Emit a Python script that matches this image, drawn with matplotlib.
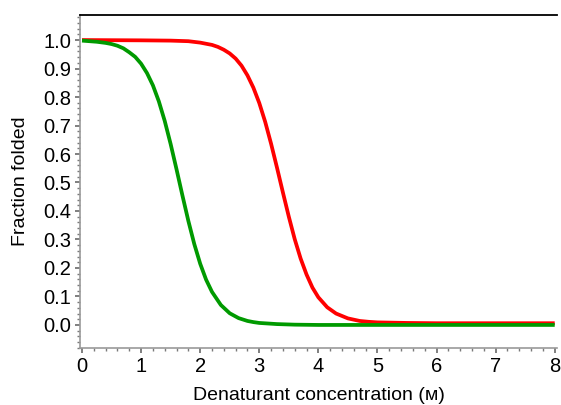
import matplotlib
matplotlib.use('Agg')
import matplotlib.pyplot as plt
from matplotlib.ticker import MultipleLocator

# values
green_x = [0, 0.25, 0.4, 0.5, 0.6, 0.7, 0.8, 0.9, 1.0, 1.1, 1.2, 1.3, 1.4, 1.5, 1.6,
           1.7, 1.8, 1.9, 2.0, 2.1, 2.2, 2.35, 2.5, 2.65, 2.8, 2.9, 3.0, 3.15, 3.3,
           3.6, 4.0, 5.0, 6.0, 7.0, 8.0]
green_y = [0.998, 0.994, 0.990, 0.986, 0.980, 0.971, 0.957, 0.941, 0.917, 0.884,
           0.841, 0.785, 0.716, 0.635, 0.546, 0.454, 0.365, 0.284, 0.215, 0.159,
           0.116, 0.070, 0.041, 0.024, 0.014, 0.010, 0.007, 0.005, 0.003, 0.001,
           0.0, 0.0, 0.0, 0.0, 0.0]

red_x = [0, 1.0, 1.5, 1.8, 2.0, 2.2, 2.3, 2.4, 2.5, 2.6, 2.7, 2.8, 2.9, 3.0, 3.1,
         3.2, 3.3, 3.4, 3.5, 3.6, 3.7, 3.8, 3.9, 4.0, 4.15, 4.3, 4.5, 4.7, 4.85,
         5.0, 5.5, 6.0, 7.0, 8.0]
red_y = [1.0, 0.999, 0.998, 0.996, 0.991, 0.983, 0.976, 0.966, 0.953, 0.935, 0.910,
         0.876, 0.833, 0.779, 0.713, 0.636, 0.552, 0.465, 0.380, 0.301, 0.233,
         0.177, 0.131, 0.097, 0.062, 0.040, 0.023, 0.014, 0.011, 0.009, 0.007,
         0.006, 0.006, 0.006]

y_ticks = [0.0, 0.1, 0.2, 0.3, 0.4, 0.5, 0.6, 0.7, 0.8, 0.9, 1.0]
x_ticks = [0, 1, 2, 3, 4, 5, 6, 7, 8]

plt.rcParams['font.family'] = ['Liberation Sans', 'DejaVu Sans']

fig = plt.figure(figsize=(5.61, 4.05), dpi=100)
ax = fig.add_axes([0.1426, 0.1407, 0.993 - 0.1426, 0.963 - 0.1407])

ax.plot(red_x, red_y, color='#ff0000', lw=2.7, solid_capstyle='butt')
ax.plot(green_x, green_y, color='#009a00', lw=2.7, solid_capstyle='butt')

ax.set_xlim(-0.034, 8.04)
ax.set_ylim(-0.081, 1.088)

ax.set_xticks(x_ticks)
ax.set_yticks(y_ticks)
ax.set_yticklabels(['%.1f' % v for v in y_ticks])
ax.xaxis.set_minor_locator(MultipleLocator(0.2))
ax.yaxis.set_minor_locator(MultipleLocator(0.02))

ax.spines['right'].set_visible(False)
ax.spines['top'].set_color('black')
ax.spines['top'].set_linewidth(1.3)
for s in ['left', 'bottom']:
    ax.spines[s].set_color('#9a9a9a')
    ax.spines[s].set_linewidth(1.2)

ax.tick_params(which='major', length=3.5, width=1.2, color='#6a6a6a',
               labelsize=14.5, labelcolor='black', pad=3, top=False, right=False)
ax.tick_params(which='minor', length=2, width=1.0, color='#7a7a7a', top=False, right=False)

ax.set_ylabel('Fraction folded', fontsize=14, labelpad=10)
ax.set_xlabel('Denaturant concentration (\u1d0d)', fontsize=14, labelpad=8)

fig.savefig('out.png', dpi=100)
